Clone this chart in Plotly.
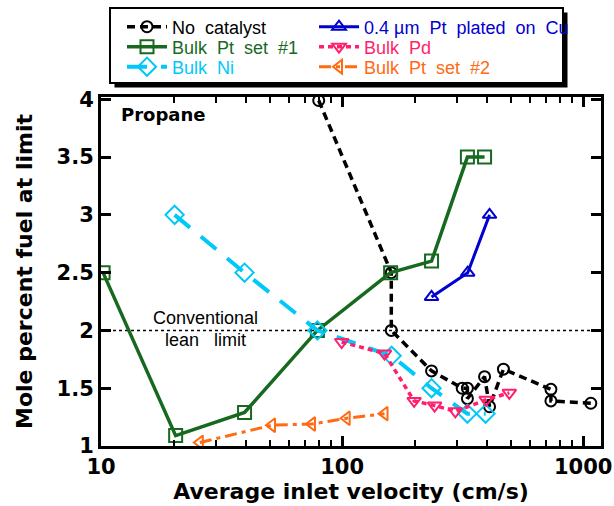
import plotly.graph_objects as go

# ---- data ----
nocat_x = [80, 160, 160, 235, 315, 331, 331, 390, 409, 467, 735, 735, 1076]
nocat_y = [3.99, 2.5, 2.0, 1.65, 1.5, 1.5, 1.41, 1.6, 1.34, 1.665, 1.49, 1.39, 1.37]

ptcu_x = [235, 332, 409]
ptcu_y = [2.29, 2.5, 3.0]

pt1_x = [10.2, 20.4, 39.4, 79, 159, 235, 331, 390]
pt1_y = [2.5, 1.09, 1.29, 2.0, 2.5, 2.6, 3.5, 3.5]

pd_x = [99.6, 150, 199, 242, 295, 396, 494]
pd_y = [1.9, 1.8, 1.39, 1.35, 1.30, 1.40, 1.46]

ni_x = [20.2, 39.4, 79, 160.5, 235, 331, 394]
ni_y = [3.0, 2.5, 2.0, 1.78, 1.5, 1.28, 1.28]

pt2_x = [25.7, 51.2, 75, 104.5, 150]
pt2_y = [1.03, 1.18, 1.19, 1.24, 1.28]

lean_limit = 2.0

GREEN = "#17691f"
BLUE = "#0000d0"
CYAN = "#00c8f8"
PINK = "#ff1f6e"
ORANGE = "#ff6a13"

fig = go.Figure()

def add(x, y, name, color, dash, symbol, width, size, legend):
    fig.add_trace(go.Scatter(
        x=x, y=y, name=name, mode="lines+markers", legend=legend,
        line=dict(color=color, width=width, dash=dash),
        marker=dict(symbol=symbol, size=size, color=color,
                    line=dict(color=color, width=2)),
    ))

add(nocat_x, nocat_y, "No  catalyst", "black", "8px,5px", "circle-open", 3.5, 11, "legend")
add(pt1_x, pt1_y, "<span style='color:%s'>Bulk  Pt  set  #1</span>" % GREEN, GREEN, "solid", "square-open", 3.5, 13, "legend2")
add(ni_x, ni_y, "<span style='color:%s'>Bulk  Ni</span>" % CYAN, CYAN, "20px,14px", "diamond-open", 4, 14, "legend3")
add(ptcu_x, ptcu_y, "<span style='color:%s'>0.4 µm  Pt  plated  on  Cu</span>" % BLUE, BLUE, "solid", "triangle-up-open", 3, 12, "legend4")
add(pd_x, pd_y, "<span style='color:%s'>Bulk  Pd</span>" % PINK, PINK, "5px,4px", "triangle-down-open", 3.5, 12, "legend5")
add(pt2_x, pt2_y, "<span style='color:%s'>Bulk  Pt  set  #2</span>" % ORANGE, ORANGE, "12px,5px,4px,5px", "triangle-left-open", 3, 12, "legend6")

fig.add_hline(y=lean_limit, line=dict(color="black", width=1.5, dash="dot"), layer="below")

fig.add_annotation(x=0.208, y=2.11, xref="paper", yref="y", text="Conventional",
                   showarrow=False, xanchor="center", font=dict(size=18, color="black"))
fig.add_annotation(x=0.208, y=1.92, xref="paper", yref="y", text="lean   limit",
                   showarrow=False, xanchor="center", font=dict(size=18, color="black"))
fig.add_annotation(x=0.036, y=3.87, xref="paper", yref="y", text="<b>Propane</b>",
                   showarrow=False, xanchor="left",
                   font=dict(size=18, color="black", family="DejaVu Sans"))

# legend frame with drop shadow (paper coords)
bx0, bx1, by0, by1 = 0.018, 0.924, 1.040, 1.255
fig.add_shape(type="rect", xref="paper", yref="paper",
              x0=bx0 + 0.009, x1=bx1 + 0.009, y0=by0 - 0.013, y1=by1 - 0.013,
              fillcolor="black", line=dict(width=0), layer="above")
fig.add_shape(type="rect", xref="paper", yref="paper",
              x0=bx0, x1=bx1, y0=by0, y1=by1,
              fillcolor="white", line=dict(color="black", width=2), layer="above")

BOLD = "DejaVu Sans"
fig.update_xaxes(
    type="log", range=[1.0, 3.074], automargin=False,
    showline=True, linecolor="black", linewidth=3, mirror="ticks",
    ticks="inside", ticklen=10, tickwidth=2.5, tickcolor="black",
    tickvals=[10, 100, 1000], ticktext=["<b>10</b>", "<b>100</b>", "<b>1000</b>"],
    tickfont=dict(size=21, color="black", family=BOLD),
    minor=dict(ticks="inside", ticklen=6, tickwidth=2, tickcolor="black",
               tickvals=[20, 30, 40, 50, 60, 70, 80, 90, 200, 300, 400, 500, 600, 700, 800, 900]),
    showgrid=False, zeroline=False,
    title=dict(text="<b>Average inlet velocity (cm/s)</b>",
               font=dict(size=22, color="black", family=BOLD), standoff=2),
)
fig.update_yaxes(
    range=[1.0, 4.02], automargin=False,
    showline=True, linecolor="black", linewidth=3, mirror="ticks",
    ticks="inside", ticklen=10, tickwidth=2.5, tickcolor="black",
    tickvals=[1, 1.5, 2, 2.5, 3, 3.5, 4],
    ticktext=["<b>1</b>", "<b>1.5</b>", "<b>2</b>", "<b>2.5</b>", "<b>3</b>", "<b>3.5</b>", "<b>4</b>"],
    tickfont=dict(size=21, color="black", family=BOLD),
    showgrid=False, zeroline=False,
    title=dict(text="<b>Mole percent fuel at limit</b>",
               font=dict(size=22, color="black", family=BOLD), standoff=18),
)

leg_common = dict(
    orientation="v", xanchor="left", yanchor="top",
    bgcolor="rgba(0,0,0,0)", borderwidth=0,
    font=dict(size=18, color="black", family="Liberation Sans, Arial, sans-serif"),
    tracegroupgap=0, itemwidth=40,
)
col_x = [0.042, 0.426]
row_y = [1.2536, 1.1963, 1.139]
fig.update_layout(
    width=614, height=506,
    margin=dict(l=101, r=13, t=97, b=60, autoexpand=False),
    paper_bgcolor="white", plot_bgcolor="white",
    font=dict(family="Liberation Sans, Arial, sans-serif", color="black"),
    showlegend=True,
    legend=dict(x=col_x[0], y=row_y[0], **leg_common),
    legend2=dict(x=col_x[0], y=row_y[1], **leg_common),
    legend3=dict(x=col_x[0], y=row_y[2], **leg_common),
    legend4=dict(x=col_x[1], y=row_y[0], **leg_common),
    legend5=dict(x=col_x[1], y=row_y[1], **leg_common),
    legend6=dict(x=col_x[1], y=row_y[2], **leg_common),
)

fig.write_html("out.html", post_script="document.body.style.margin='0px';",
               config={"displayModeBar": False})
